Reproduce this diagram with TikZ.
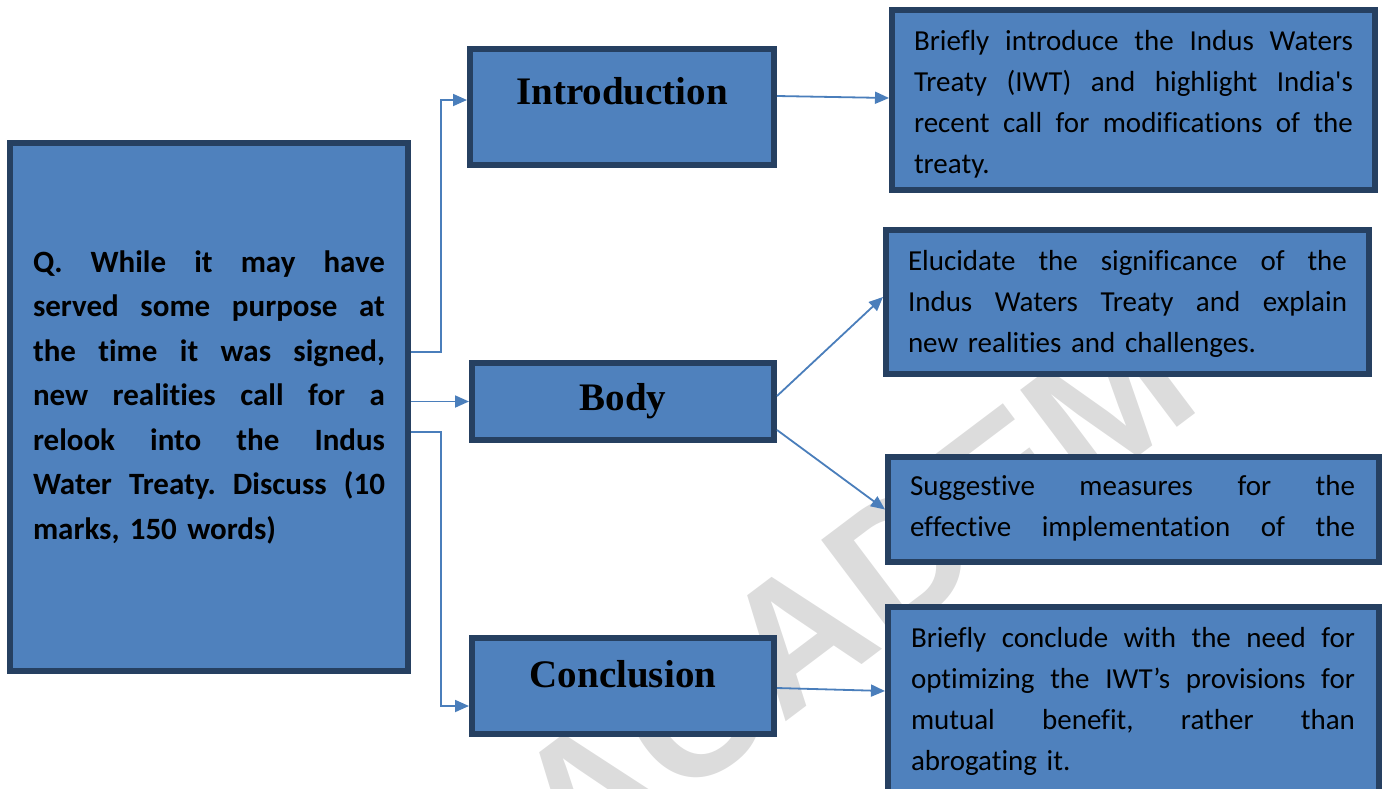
\documentclass[tikz,border=0pt]{standalone}
\usepackage{fontspec}
\usetikzlibrary{arrows.meta}
\newfontfamily\bodyfont{Carlito}[Ligatures=NoCommon]
\newfontfamily\headfont{Liberation Serif}
\newfontfamily\markfont{Liberation Sans}
\definecolor{boxfill}{RGB}{79,129,189}
\definecolor{boxline}{RGB}{38,64,97}
\definecolor{conn}{RGB}{74,126,187}
\definecolor{wmgray}{RGB}{220,220,220}
% one fully justified line of a paragraph: width, text
\newcommand\jline[2]{\leavevmode\hbox to #1{\spaceskip=0pt plus 1fil\xspaceskip=0pt plus 1fil #2}}

\begin{document}
\begin{tikzpicture}[x=1pt,y=-1pt,
  box/.style={draw=boxline, line width=6pt, fill=boxfill, anchor=north west,
    inner ysep=0pt, text=black},
  head/.style={box, inner xsep=0pt,
    font=\headfont\bfseries\fontsize{39}{44}\selectfont},
  desc/.style={box, inner xsep=22pt,
    font=\bodyfont\fontsize{29}{41}\selectfont\frenchspacing},
  arr/.style={draw=conn, line width=1.8pt, -{Triangle[length=14pt,width=12pt]}}]

\useasboundingbox (0,0) rectangle (1385,788);
\clip (0,0) rectangle (1385,788);

% watermark behind everything
\node[text=wmgray, rotate=37, inner sep=0pt,
  font=\markfont\bfseries\fontsize{180}{180}\selectfont] (wm) at (901,558) {ACADEMY};

% question
\node[box, inner xsep=23pt, text width=352pt, text height=129pt, text depth=399pt,
  font=\bodyfont\bfseries\fontsize{31}{44.5}\selectfont\frenchspacing] (q) at (7,140)
  {\jline{352pt}{Q. While it may have}\\
   \jline{352pt}{served some purpose at}\\
   \jline{352pt}{the time it was signed,}\\
   \jline{352pt}{new realities call for a}\\
   \jline{352pt}{relook into the Indus}\\
   \jline{352pt}{Water Treaty. Discuss (10}\\
   marks, 150 words)};

% section headings
\node[head, minimum width=304pt, text height=55pt, text depth=61pt] (intro) at (467,46) {Introduction};
\node[head, minimum width=302pt, text height=47pt, text depth=30pt] (body) at (469,360) {Body};
\node[head, minimum width=302pt, text height=49pt, text depth=47pt] (concl) at (469,635) {Conclusion};

% descriptions
\node[desc, text width=439pt, text height=40pt, text depth=140pt] (idesc) at (889,7)
  {\jline{439pt}{Briefly introduce the Indus Waters}\\
   \jline{439pt}{Treaty (IWT) and highlight India's}\\
   \jline{439pt}{recent call for modifications of the}\\
   treaty.};
\node[desc, text width=439pt, text height=40pt, text depth=104pt] (eluc) at (883,227)
  {\jline{439pt}{Elucidate the significance of the}\\
   \jline{439pt}{Indus Waters Treaty and explain}\\
   new realities and challenges.};
\node[desc, text width=447pt, text height=38pt, text depth=67pt] (sugg) at (885,454)
  {\jline{445pt}{Suggestive measures for the}\\
   \jline{445pt}{effective implementation of the}};
\node[desc, inner xsep=23pt, text width=445pt, text height=40pt, text depth=173pt] (cdesc) at (885,604)
  {\jline{444pt}{Briefly conclude with the need for}\\
   \jline{444pt}{optimizing the IWT’s provisions for}\\
   \jline{444pt}{mutual benefit, rather than}\\
   abrogating it.};

% connectors
\draw[arr] (q.east |- 0,352) -- (441,352) |- ([yshift=7pt]intro.west);
\draw[arr] (q.east |- body.west) -- (body.west);
\draw[arr] (q.east |- 0,432) -- (441,432) |- ([yshift=-20pt]concl.west);
\draw[arr] ([yshift=11pt]intro.east) -- ([yshift=2pt]idesc.west);
\draw[arr] ([yshift=5.5pt]body.east) -- ([yshift=5pt]eluc.west);
\draw[arr] ([yshift=-28.5pt]body.east) -- (sugg.west);
\draw[arr] ([yshift=-2pt]concl.east) -- ([yshift=-87pt]cdesc.north west);
\end{tikzpicture}
\end{document}
